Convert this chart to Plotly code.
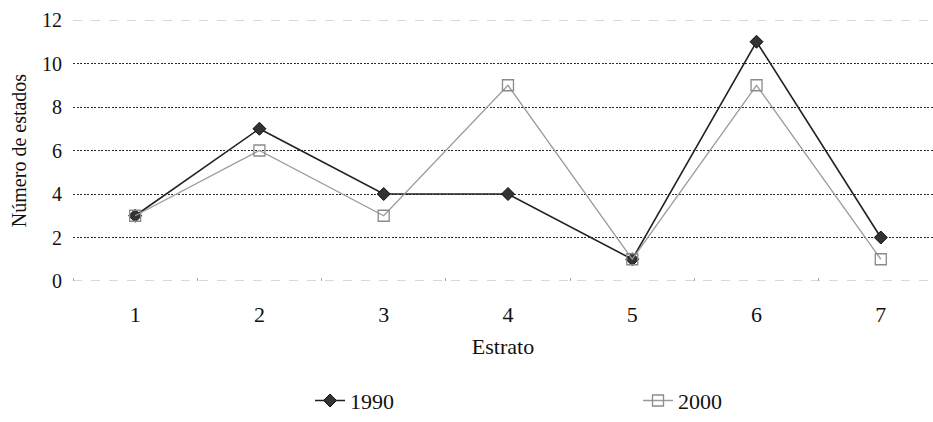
import plotly.graph_objects as go

estratos = [1, 2, 3, 4, 5, 6, 7]
serie_1990 = [3, 7, 4, 4, 1, 11, 2]
serie_2000 = [3, 6, 3, 9, 1, 9, 1]
y_ticks = [0, 2, 4, 6, 8, 10, 12]

FONT = "Liberation Serif, Times New Roman, serif"

fig = go.Figure()
fig.add_trace(go.Scatter(
    x=estratos, y=serie_1990, name="1990", mode="lines+markers",
    line=dict(color="#222222", width=1.6),
    marker=dict(symbol="diamond", size=10, color="#333333",
                line=dict(color="#111111", width=1)),
    legend="legend",
))
fig.add_trace(go.Scatter(
    x=estratos, y=serie_2000, name="2000", mode="lines+markers",
    line=dict(color="#9a9a9a", width=1.3),
    marker=dict(symbol="square-open", size=11, color="#8a8a8a",
                line=dict(color="#8a8a8a", width=1.3)),
    legend="legend2",
))

# faint boundary lines at 0 and 12 (as in the scanned original)
for v in (y_ticks[0], y_ticks[-1]):
    fig.add_hline(y=v, line=dict(color="#b0b0b0", width=1, dash="dash"),
                  layer="below")

leg_common = dict(orientation="h", yanchor="middle", xanchor="left",
                  font=dict(size=22, family=FONT, color="#111111"),
                  bgcolor="rgba(0,0,0,0)", borderwidth=0)

fig.update_layout(
    width=933, height=422,
    margin=dict(l=73, r=0, t=20, b=136),
    paper_bgcolor="white", plot_bgcolor="white",
    font=dict(family=FONT, color="#111111"),
    showlegend=True,
    legend=dict(x=0.2756, y=-0.4586, **leg_common),
    legend2=dict(x=0.657, y=-0.4586, **leg_common),
    xaxis=dict(range=[0.5, 7.42], tickvals=estratos,
               ticktext=[str(e) for e in estratos],
               showgrid=False, zeroline=False, showline=False,
               ticks="", tickfont=dict(size=22, family=FONT),
               ticklabelstandoff=18, automargin=False,
               title=dict(text="Estrato", font=dict(size=22, family=FONT),
                          standoff=12),
               minor=dict(ticks="inside", tick0=0.5, dtick=1, ticklen=3,
                          tickcolor="#aaaaaa", showgrid=False)),
    yaxis=dict(range=[0, 12], tickvals=y_ticks,
               ticktext=[str(v) for v in y_ticks],
               showgrid=True, gridcolor="#2a2a2a", griddash="2px,1.5px",
               gridwidth=1.2, zeroline=False, showline=False, ticks="",
               ticklabelstandoff=10, automargin=False,
               tickfont=dict(size=20, family=FONT),
               title=dict(text="Número de estados",
                          font=dict(size=20, family=FONT), standoff=10)),
)

fig.write_html("out.html", config={"displayModeBar": False},
               post_script="document.body.style.margin='0';")
